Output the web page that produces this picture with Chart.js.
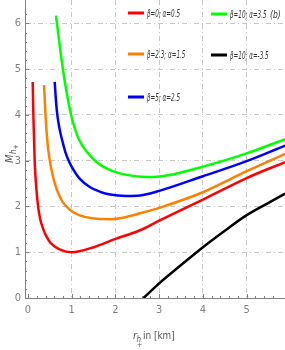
<!DOCTYPE html>
<html>
<head>
<meta charset="utf-8">
<script src="https://cdn.jsdelivr.net/npm/chart.js@4"></script>
<style>
  html, body { margin: 0; padding: 0; background: #fff; }
  #chart { display: block; }
</style>
</head>
<body>
<canvas id="chart" width="285" height="350"></canvas>
<script>
// curves: horizon radius r (km) vs mass M
const labels = ["β=0; α=0.5", "β=2.3; α=1.5", "β=5; α=2.5", "β=10; α=3.5", "β=10; α=-3.5"];
const colors = ["#ff0000", "#ff8000", "#0000ff", "#00ff00", "#000000"];

const rRed = [0.107, 0.122, 0.152, 0.19, 0.23, 0.28, 0.35, 0.43, 0.52, 0.75, 1.0, 1.5, 2.0, 2.56, 3.0, 4.0, 5.0, 5.88];
const mRed = [4.72, 4.0, 3.0, 2.4, 2.0, 1.72, 1.5, 1.33, 1.2, 1.05, 1.0, 1.11, 1.29, 1.48, 1.69, 2.15, 2.62, 2.97];

const rOrange = [0.366, 0.40, 0.44, 0.49, 0.56, 0.63, 0.70, 0.79, 0.9, 1.01, 1.2, 1.43, 1.84, 2.2, 2.56, 3.0, 4.0, 5.0, 5.88];
const mOrange = [4.65, 4.0, 3.45, 3.05, 2.7, 2.45, 2.27, 2.1, 1.98, 1.89, 1.8, 1.75, 1.72, 1.76, 1.85, 1.97, 2.31, 2.77, 3.15];

const rBlue = [0.61, 0.64, 0.67, 0.72, 0.78, 0.85, 0.93, 1.04, 1.17, 1.42, 1.65, 1.88, 2.24, 2.56, 3.0, 4.0, 5.0, 5.88];
const mBlue = [4.72, 4.3, 4.0, 3.7, 3.45, 3.2, 3.0, 2.8, 2.62, 2.42, 2.32, 2.26, 2.23, 2.24, 2.34, 2.66, 2.99, 3.33];

const rGreen = [0.64, 0.72, 0.81, 0.9, 0.98, 1.1, 1.2, 1.34, 1.51, 1.7, 1.97, 2.26, 2.6, 2.87, 3.2, 4.0, 5.0, 5.88];
const mGreen = [6.17, 5.55, 4.92, 4.4, 4.02, 3.62, 3.4, 3.2, 3.02, 2.88, 2.76, 2.69, 2.65, 2.645, 2.68, 2.87, 3.16, 3.47];

const rBlack = [2.64, 3.0, 3.5, 4.0, 4.5, 5.0, 5.5, 5.88];
const mBlack = [0, 0.32, 0.72, 1.11, 1.47, 1.81, 2.08, 2.28];

const xTicks = [0, 1, 2, 3, 4, 5];
const yTicks = [0, 1, 2, 3, 4, 5, 6];

const series = [[rRed, mRed], [rOrange, mOrange], [rBlue, mBlue], [rGreen, mGreen], [rBlack, mBlack]];

const narrow = '"Liberation Sans Narrow", "DejaVu Sans Condensed", sans-serif';
const gray = "#808080";

function toPoints(rs, ms) {
    return rs.map((r, i) => ({ x: r, y: ms[i] }));
}

// squeeze text horizontally, the reference uses a very condensed face
function squeezed(ctx, text, x, y, k) {
    ctx.save();
    ctx.translate(x, y);
    ctx.scale(k, 1);
    ctx.fillText(text, 0, 0);
    ctx.restore();
}

// Mathematica-style extras: minor ticks, legend, axis titles
const extras = {
    id: "extras",
    afterDraw(chart) {
        const ctx = chart.ctx;
        const xs = chart.scales.x;
        const ys = chart.scales.y;
        const area = chart.chartArea;

        ctx.save();
        ctx.strokeStyle = gray;
        ctx.lineWidth = 1;
        for (let v = 0; v <= 5.8; v += 0.2) {
            const major = Math.abs(v - Math.round(v)) < 1e-6;
            const px = Math.round(xs.getPixelForValue(v)) + 0.5;
            ctx.beginPath();
            ctx.moveTo(px, area.bottom);
            ctx.lineTo(px, area.bottom - (major ? 4 : 2));
            ctx.stroke();
        }
        for (let v = 0; v <= 6.4; v += 0.2) {
            const major = Math.abs(v - Math.round(v)) < 1e-6;
            const py = Math.round(ys.getPixelForValue(v)) + 0.5;
            ctx.beginPath();
            ctx.moveTo(area.left, py);
            ctx.lineTo(area.left + (major ? 4 : 2), py);
            ctx.stroke();
        }

        // legend laid out in two columns inside the plot
        const slots = [[128, 13], [128, 54], [128, 97], [211, 14], [211, 55]];
        ctx.textBaseline = "middle";
        ctx.textAlign = "left";
        ctx.font = "italic 10px " + narrow;
        const k = 33 / ctx.measureText(labels[0]).width;
        labels.forEach((lab, i) => {
            const [lx, ly] = slots[i];
            ctx.strokeStyle = colors[i];
            ctx.lineWidth = 3;
            ctx.beginPath();
            ctx.moveTo(lx, ly);
            ctx.lineTo(lx + 16, ly);
            ctx.stroke();
            ctx.fillStyle = "#333";
            squeezed(ctx, lab, lx + 19, ly + 1, k);
        });
        squeezed(ctx, "(b)", 270, 15, 0.85);

        // y axis title
        ctx.fillStyle = "#555";
        ctx.save();
        ctx.translate(13, 163);
        ctx.rotate(-Math.PI / 2);
        ctx.textBaseline = "alphabetic";
        ctx.font = "italic 11px " + narrow;
        ctx.fillText("M", 0, 0);
        const mw = ctx.measureText("M").width;
        ctx.font = "italic 8px " + narrow;
        ctx.fillText("h", mw + 0.5, 2.5);
        ctx.font = "7px " + narrow;
        ctx.fillText("+", mw + 5, 4.5);
        ctx.restore();

        // x axis title
        ctx.textBaseline = "alphabetic";
        ctx.font = "italic 11px " + narrow;
        ctx.fillText("r", 133, 339);
        ctx.font = "italic 8px " + narrow;
        ctx.fillText("h", 136.5, 342);
        ctx.font = "7px " + narrow;
        ctx.fillText("+", 137, 347);
        ctx.font = "11px " + narrow;
        squeezed(ctx, "in [km]", 143, 339, 0.9);
        ctx.restore();
    },
};

const gridColor = (c) => (c.tick && c.tick.value === 0 ? "rgba(0,0,0,0)" : "#c8c8c8");

new Chart(document.getElementById("chart").getContext("2d"), {
    type: "scatter",
    data: {
        datasets: series.map(([rs, ms], i) => ({
            label: labels[i],
            data: toPoints(rs, ms),
            showLine: true,
            borderColor: colors[i],
            backgroundColor: colors[i],
            borderWidth: 2.5,
            pointRadius: 0,
            cubicInterpolationMode: "monotone",
        })),
    },
    options: {
        responsive: false,
        animation: false,
        layout: { padding: 0 },
        plugins: {
            legend: { display: false },
            tooltip: { enabled: false },
        },
        scales: {
            x: {
                type: "linear",
                min: -0.069,
                max: 5.876,
                afterBuildTicks: (s) => { s.ticks = xTicks.map((v) => ({ value: v })); },
                afterFit: (s) => {
                    s.height = 52;
                    s.paddingLeft = 0;
                    s.paddingRight = 0;
                },
                ticks: {
                    color: gray,
                    padding: 6,
                    maxRotation: 0,
                    font: { family: narrow, size: 11 },
                },
                grid: { color: gridColor, lineWidth: 1, drawTicks: false },
                border: { display: true, color: gray, width: 1, dash: [5, 3, 1, 3] },
            },
            y: {
                type: "linear",
                min: 0,
                max: 6.51,
                afterBuildTicks: (s) => { s.ticks = yTicks.map((v) => ({ value: v })); },
                afterFit: (s) => {
                    s.width = 25;
                    s.paddingTop = 0;
                    s.paddingBottom = 0;
                },
                ticks: {
                    color: gray,
                    padding: 4,
                    font: { family: narrow, size: 11 },
                },
                grid: { color: gridColor, lineWidth: 1, drawTicks: false },
                border: { display: true, color: gray, width: 1, dash: [5, 3, 1, 3] },
            },
        },
    },
    plugins: [extras],
});
</script>
</body>
</html>
